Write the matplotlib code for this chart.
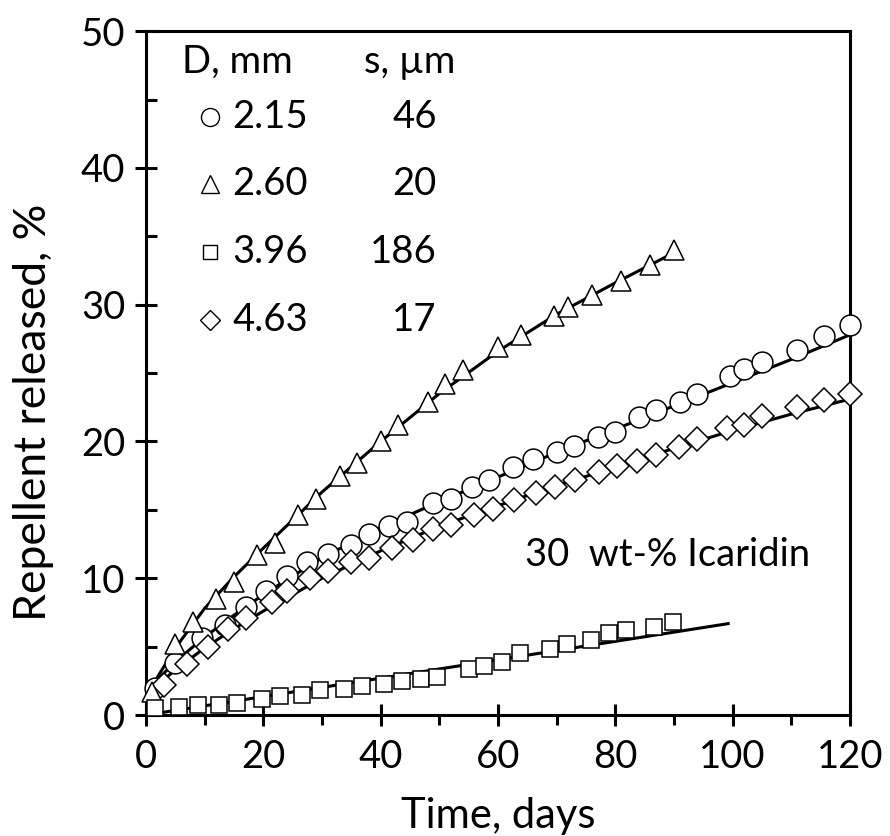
import matplotlib
matplotlib.use("Agg")
import matplotlib.pyplot as plt
from matplotlib.ticker import MultipleLocator

plt.rcParams['font.family'] = ['Lato', 'DejaVu Sans']

# ---------------- data ----------------
# legend table
diam_mm = ["2.15", "2.60", "3.96", "4.63"]
shell_um = ["46", "20", "186", "17"]
markers = ["o", "^", "s", "D"]

# measured points (time in days, % released)
circ_t = [1.5, 5, 9.5, 13.5, 17, 20.5, 24, 27.5, 31, 35, 38, 41.5, 44.5, 49, 52, 55.5,
          58.5, 62.5, 66, 70, 73, 77, 80, 84, 87, 91, 94, 99.5, 102, 105, 111, 115.5, 120]
circ_v = [2.0, 3.8, 5.6, 6.6, 7.9, 9.1, 10.2, 11.2, 11.8, 12.4, 13.2, 13.8, 14.1, 15.5, 15.8, 16.7,
          17.2, 18.1, 18.7, 19.2, 19.7, 20.3, 20.7, 21.8, 22.3, 22.9, 23.5, 24.8, 25.3, 25.8, 26.7, 27.7, 28.5]

tri_t = [1, 5, 8, 12, 15, 19, 22, 26, 29, 33, 36, 40, 43, 48, 51, 54, 60, 64, 69.5, 72, 76, 81, 86, 90]
tri_v = [1.7, 5.2, 6.8, 8.5, 9.7, 11.7, 12.6, 14.6, 15.8, 17.5, 18.4, 20.0, 21.2, 22.9, 24.2, 25.2,
         26.9, 27.8, 29.2, 29.8, 30.7, 31.7, 32.9, 34.0]

sq_t = [1.5, 5.7, 8.8, 12.5, 15.5, 19.7, 22.8, 26.6, 29.7, 33.7, 36.8, 40.5, 43.6, 46.8, 49.6,
        55, 57.6, 60.7, 63.8, 68.9, 71.8, 75.8, 78.9, 81.9, 86.6, 89.8]
sq_v = [0.5, 0.6, 0.7, 0.7, 0.9, 1.2, 1.4, 1.5, 1.8, 1.9, 2.1, 2.3, 2.5, 2.6, 2.8,
        3.4, 3.6, 3.9, 4.5, 4.8, 5.2, 5.5, 6.0, 6.2, 6.4, 6.8]

dia_t = [3, 7, 10.5, 14, 17, 21.5, 24, 28, 31, 35, 38, 42, 45.5, 49, 52, 56, 59.2, 62.7, 66.4,
         69.8, 73.2, 77.2, 80.3, 83.7, 86.9, 90.8, 94, 99, 102, 105, 111, 115.5, 120]
dia_v = [2.2, 3.7, 5.0, 6.3, 7.1, 8.3, 9.1, 10.0, 10.5, 11.2, 11.5, 12.2, 12.8, 13.6, 13.9, 14.6, 15.1,
         15.7, 16.2, 16.7, 17.2, 17.8, 18.2, 18.6, 19.0, 19.6, 20.2, 21.0, 21.2, 21.9, 22.5, 23.0, 23.5]

# model (fit) curves
fit_t_tri = [0, 2, 5, 10, 15, 20, 30, 40, 50, 60, 70, 80, 90]
fit_v_tri = [1.3, 2.8, 4.9, 7.8, 10.1, 12.2, 16.3, 20.0, 23.5, 26.6, 29.3, 31.6, 33.8]
fit_t_long = [0, 2, 5, 10, 15, 20, 30, 40, 50, 60, 70, 80, 90, 100, 110, 120]
fit_v_circ = [1.6, 2.6, 3.9, 5.7, 7.3, 8.8, 11.5, 13.7, 15.6, 17.4, 19.2, 20.9, 22.6, 24.3, 26.0, 27.8]
fit_v_dia = [1.5, 2.2, 3.3, 4.9, 6.3, 7.6, 10.0, 12.0, 13.8, 15.3, 16.8, 18.1, 19.5, 20.8, 22.0, 23.1]
fit_t_sq = [0, 99.5]
fit_v_sq = [0.0, 6.7]

x_ticks = [0, 20, 40, 60, 80, 100, 120]
y_ticks = [0, 10, 20, 30, 40, 50]

# ---------------- figure ----------------
FS = 27.5
FL = 30
fig = plt.figure(figsize=(8.9, 8.36), dpi=100)
ax = fig.add_axes([0.164, 0.1447, 0.791, 0.818])

line_kw = dict(color="black", lw=2.2, zorder=2, solid_capstyle="butt")
ax.plot(fit_t_long, fit_v_circ, **line_kw)
ax.plot(fit_t_long, fit_v_dia, **line_kw)
ax.plot(fit_t_tri, fit_v_tri, **line_kw)
ax.plot(fit_t_sq, fit_v_sq, **line_kw)

mk = dict(linestyle="none", markerfacecolor="white", markeredgecolor="black",
          markeredgewidth=1.1, zorder=3, clip_on=False)
ax.plot(circ_t, circ_v, marker="o", markersize=15, **mk)
ax.plot(dia_t, dia_v, marker="D", markersize=12, **mk)
ax.plot(tri_t, tri_v, marker="^", markersize=14, **mk)
ax.plot(sq_t, sq_v, marker="s", markersize=11, **mk)

ax.set_xlim(0, 120)
ax.set_ylim(0, 50)
ax.set_xticks(x_ticks)
ax.set_yticks(y_ticks)
ax.xaxis.set_minor_locator(MultipleLocator(10))
ax.yaxis.set_minor_locator(MultipleLocator(5))

for s in ax.spines.values():
    s.set_linewidth(2.2)

ax.tick_params(axis="x", which="major", direction="inout", length=16, width=2.2,
               labelsize=FS, pad=9)
ax.tick_params(axis="x", which="minor", direction="out", length=7, width=2.2)
ax.tick_params(axis="y", which="major", direction="inout", length=16, width=2.2,
               labelsize=FS, pad=7)
ax.tick_params(axis="y", which="minor", direction="in", length=8, width=2.2)

ax.set_xlabel("Time, days", fontsize=FL, labelpad=16)
ax.set_ylabel("Repellent released, %", fontsize=32)
ax.yaxis.set_label_coords(-0.131, 0.443)

# legend table
tx = ax.transAxes
ax.text(0.051, 0.955, "D, mm", transform=tx, fontsize=FS, va="center", ha="left")
ax.text(0.439, 0.955, "s, \u00b5m", transform=tx, fontsize=FS, va="center", ha="right")
row_y0, row_dy = 0.875, 0.0990
msizes = {"o": 13, "^": 12.5, "s": 10, "D": 10.5}
for i, (d, s, m) in enumerate(zip(diam_mm, shell_um, markers)):
    y = row_y0 - i * row_dy
    ax.plot([0.091], [y], transform=tx, marker=m, markersize=msizes[m],
            markerfacecolor="white", markeredgecolor="black", markeredgewidth=1.0,
            linestyle="none", clip_on=False)
    ax.text(0.123, y, d, transform=tx, fontsize=FS, va="center", ha="left")
    ax.text(0.413, y, s, transform=tx, fontsize=FS, va="center", ha="right")

ax.text(0.538, 0.234, "30  wt-% Icaridin", transform=tx, fontsize=FS, va="center", ha="left")

fig.savefig("out.png", dpi=100)
